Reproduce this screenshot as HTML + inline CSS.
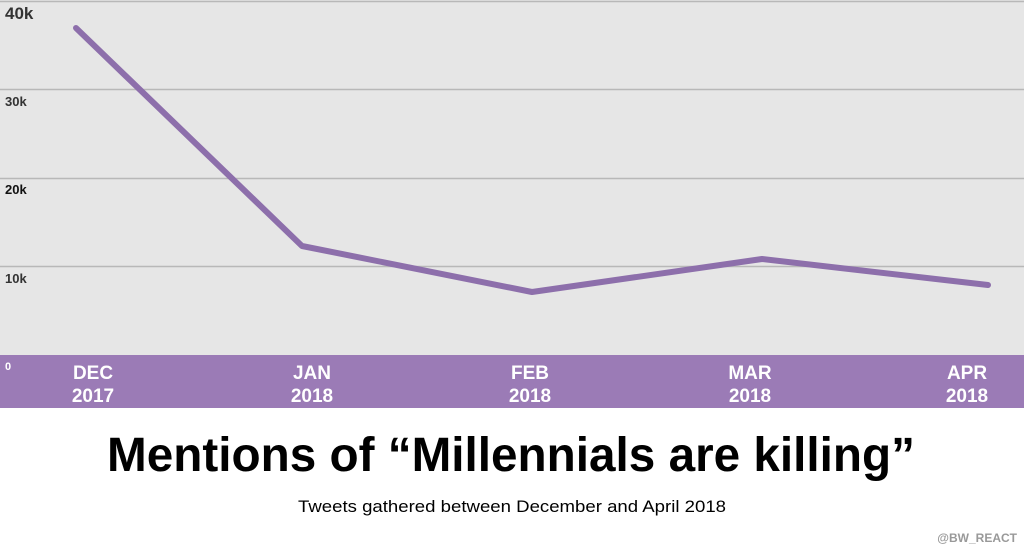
<!DOCTYPE html>
<html><head><style>
body{margin:0;width:1024px;height:550px;background:#fff;font-family:"Liberation Sans",sans-serif;position:relative;overflow:hidden}
</style></head><body>
<svg width="1024" height="550" style="position:absolute;left:0;top:0">
<rect x="0" y="0" width="1024" height="355" fill="#e6e6e6"/>
<g stroke="#b8b8b8" stroke-width="1.5">
<line x1="0" y1="1.5" x2="1024" y2="1.5"/>
<line x1="0" y1="89.5" x2="1024" y2="89.5"/>
<line x1="0" y1="178.5" x2="1024" y2="178.5"/>
<line x1="0" y1="266.5" x2="1024" y2="266.5"/>
</g>
<rect x="0" y="355" width="1024" height="53" fill="#9b7bb6"/>
<polyline points="76,28 302,246 532,292 762,259 988,285" fill="none" stroke="#8d6fab" stroke-width="6" stroke-linecap="round" stroke-linejoin="round"/>
<g font-family="Liberation Sans" font-weight="bold" fill="#333">
<text x="5" y="19" font-size="17">40k</text>
<text x="5" y="106" font-size="13">30k</text>
<text x="5" y="194" font-size="13" fill="#111">20k</text>
<text x="5" y="283" font-size="13">10k</text>
<text x="5" y="370" font-size="11" fill="#fff">0</text>
</g>
<g font-family="Liberation Sans" font-weight="bold" fill="#fff" font-size="19" text-anchor="middle">
<text x="93" y="379">DEC</text><text x="93" y="402">2017</text>
<text x="312" y="379">JAN</text><text x="312" y="402">2018</text>
<text x="530" y="379">FEB</text><text x="530" y="402">2018</text>
<text x="750" y="379">MAR</text><text x="750" y="402">2018</text>
<text x="967" y="379">APR</text><text x="967" y="402">2018</text>
</g>
<text x="107" y="471" textLength="808" lengthAdjust="spacingAndGlyphs" font-family="Liberation Sans" font-weight="bold" font-size="48" fill="#000">Mentions of “Millennials are killing”</text>
<text x="298" y="512" textLength="428" lengthAdjust="spacingAndGlyphs" font-family="Liberation Sans" font-size="17" fill="#000">Tweets gathered between December and April 2018</text>
<text x="1017" y="542" text-anchor="end" font-family="Liberation Sans" font-weight="bold" font-size="12" fill="#999">@BW_REACT</text>
</svg>
</body></html>
